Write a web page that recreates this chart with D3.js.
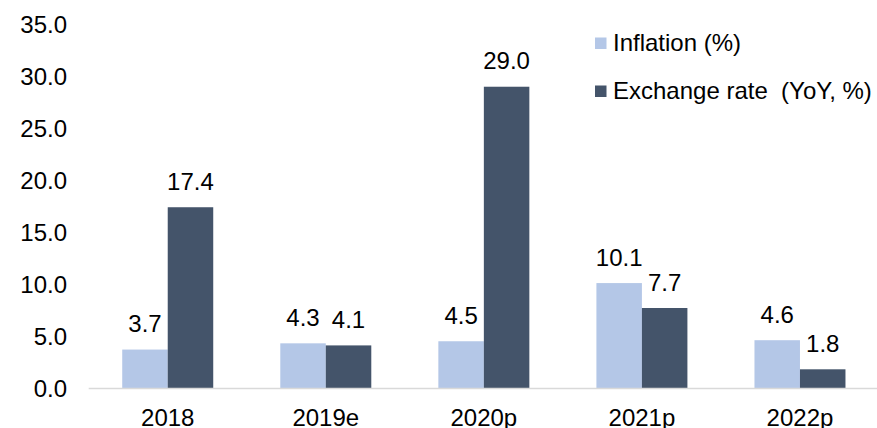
<!DOCTYPE html>
<html><head><meta charset="utf-8">
<script src="https://cdn.jsdelivr.net/npm/d3@7/dist/d3.min.js"></script>
<style>body{margin:0;background:#fff}svg{display:block;font-family:"Liberation Sans",Arial,sans-serif}</style>
</head><body><svg id="c" width="877" height="428"></svg>
<script>
const categories = ["2018","2019e","2020p","2021p","2022p"];
const inflation = [3.7,4.3,4.5,10.1,4.6];
const exchange = [17.4,4.1,29.0,7.7,1.8];
const seriesNames = ["Inflation (%)","Exchange rate  (YoY, %)"];
const yTicks = [0,5,10,15,20,25,30,35];
const colors = ["#b4c7e7","#44546a"];

const svg = d3.select("#c");
const x0 = 88.7, x1 = 879, yb = 388, yt = 24.4;
const x = d3.scaleBand().domain(categories).range([x0,x1]).paddingInner(0).paddingOuter(0);
const y = d3.scaleLinear().domain([0,35]).range([yb,yt]);
const bw = 45.5;
const fs = 24;

// y tick labels
svg.append("g").selectAll("text").data(yTicks).join("text")
  .attr("x",67).attr("y",d=>y(d)).attr("dy","0.36em")
  .attr("text-anchor","end").attr("font-size",fs).attr("fill","#000")
  .text(d=>d.toFixed(1));

const series = [inflation, exchange];
series.forEach((vals,si)=>{
  const g = svg.append("g");
  g.selectAll("rect").data(vals).join("rect")
    .attr("x",(d,i)=>x(categories[i])+x.bandwidth()/2 + (si===0?-bw:0))
    .attr("width",bw)
    .attr("y",d=>y(d)).attr("height",d=>yb-y(d))
    .attr("fill",colors[si]);
  g.selectAll("text").data(vals).join("text")
    .attr("x",(d,i)=>x(categories[i])+x.bandwidth()/2 + (si===0?-bw/2:bw/2))
    .attr("y",d=>y(d)-17.5)
    .attr("text-anchor","middle").attr("font-size",fs).attr("fill","#000")
    .text(d=>d.toFixed(1));
});

// axis line
svg.append("line").attr("x1",x0).attr("x2",877).attr("y1",yb+0.5).attr("y2",yb+0.5)
  .attr("stroke","#d9d9d9").attr("stroke-width",1.5);

// x labels
svg.append("g").selectAll("text").data(categories).join("text")
  .attr("x",d=>x(d)+x.bandwidth()/2).attr("y",425.5)
  .attr("text-anchor","middle").attr("font-size",fs).attr("fill","#000")
  .text(d=>d);

// legend
const leg = svg.append("g");
seriesNames.forEach((n,i)=>{
  const cy = 43 + i*48;
  leg.append("rect").attr("x",595).attr("y",cy-5.5).attr("width",11.5).attr("height",11.5).attr("fill",colors[i]);
  leg.append("text").attr("x",613).attr("y",cy).attr("dy","0.33em").attr("font-size",fs)
    .attr("fill","#000").attr("xml:space","preserve").style("white-space","pre").text(n);
});
</script></body></html>
